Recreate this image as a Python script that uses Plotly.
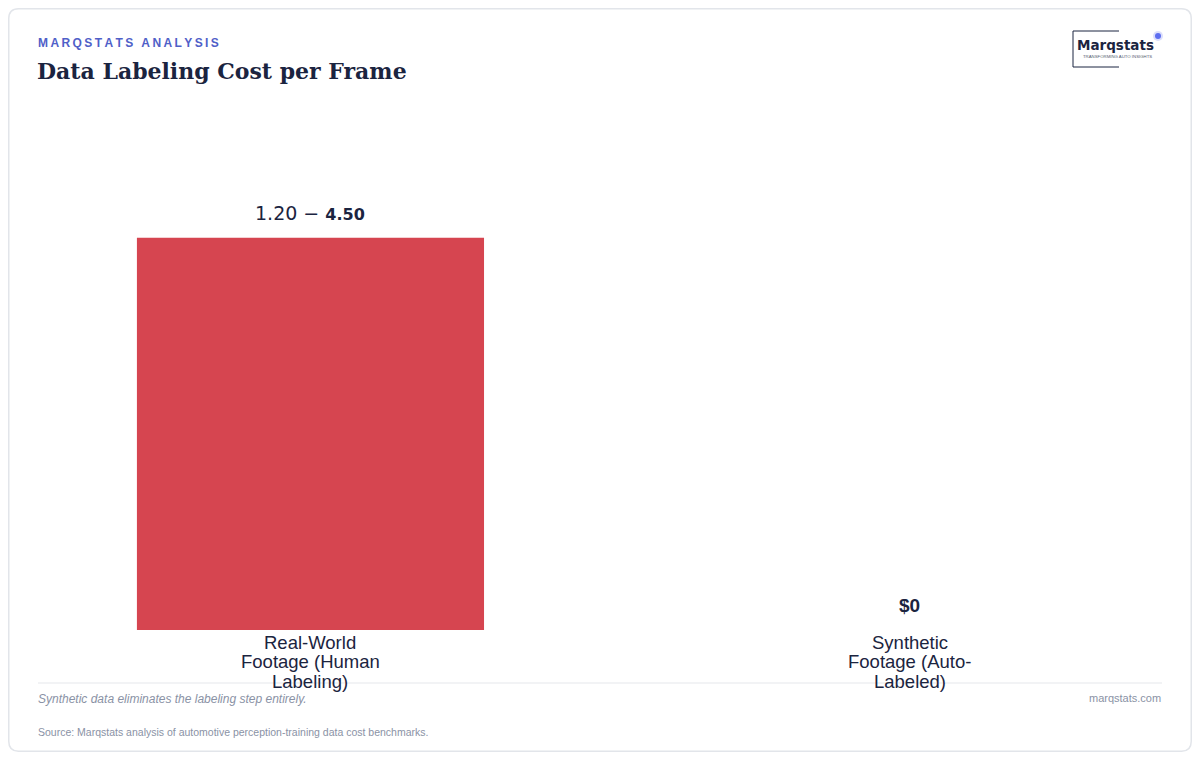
import plotly.graph_objects as go

# ---- data ----
categories = ["Real-World<br>Footage (Human<br>Labeling)", "Synthetic<br>Footage (Auto-<br>Labeled)"]
cost_low = [1.20, None]
cost_high = [4.50, 0.0]
bar_colors = ["#d64550", "#d64550"]

OFF = 8  # page offset of the figure inside the window
W, H = 1184, 744
L, R, T, B = 30, 30, 112, 122
PW, PH = W - L - R, H - T - B


def px(x):  # window pixel -> paper
    return (x - OFF - L) / PW


def py(y):
    return (H - B - (y - OFF)) / PH


DARK = "#1b2440"
GREY = "#8a92a5"

fig = go.Figure()
fig.add_trace(go.Bar(
    x=[0, 1], y=cost_high, marker=dict(color=bar_colors, line=dict(width=0)),
    width=0.579, hoverinfo="skip",
))

ann = []
# value labels
for i, (lo, hi) in enumerate(zip(cost_low, cost_high)):
    if lo is not None:
        txt = f"{lo:.2f} − <span style='font-size:16px'><b>{hi:.2f}</b></span>"
        fnt = dict(family="DejaVu Sans", size=19, color=DARK)
    else:
        txt = f"<b>${hi:.0f}</b>"
        fnt = dict(family="Liberation Sans, Arial", size=19, color=DARK)
    ann.append(dict(x=i, y=hi, xref="x", yref="y", text=txt, showarrow=False,
                    font=fnt, xanchor="center", yanchor="middle", yshift=25))

# category labels (tight line spacing)
for i, c in enumerate(categories):
    for j, line in enumerate(c.split("<br>")):
        ann.append(dict(x=i, y=0, xref="x", yref="y", text=line, showarrow=False,
                        font=dict(family="Liberation Sans, Arial", size=18.5, color=DARK),
                        xanchor="center", yanchor="middle", yshift=-(12 + 19.5 * j)))

# header
ann.append(dict(x=px(36), y=py(43), xref="paper", yref="paper",
                text="\u2009".join("MARQSTATS ANALYSIS"), showarrow=False,
                font=dict(family="Liberation Sans, Arial", size=12, color="#4f60c8", weight="bold"),
                xanchor="left", yanchor="middle"))
ann.append(dict(x=px(35), y=py(71), xref="paper", yref="paper",
                text="<b>Data Labeling Cost per Frame</b>", showarrow=False,
                font=dict(family="DejaVu Serif", size=22, color=DARK),
                xanchor="left", yanchor="middle"))
# footer
ann.append(dict(x=px(36), y=py(699), xref="paper", yref="paper",
                text="<i>Synthetic data eliminates the labeling step entirely.</i>", showarrow=False,
                font=dict(family="Liberation Sans, Arial", size=12, color=GREY),
                xanchor="left", yanchor="middle"))
ann.append(dict(x=px(1163), y=py(698), xref="paper", yref="paper",
                text="marqstats.com", showarrow=False,
                font=dict(family="Liberation Sans, Arial", size=11, color=GREY),
                xanchor="right", yanchor="middle"))
ann.append(dict(x=px(36), y=py(732), xref="paper", yref="paper",
                text="Source: Marqstats analysis of automotive perception-training data cost benchmarks.",
                showarrow=False,
                font=dict(family="Liberation Sans, Arial", size=10.5, color=GREY),
                xanchor="left", yanchor="middle"))
# logo text
ann.append(dict(x=px(1115.5), y=py(45), xref="paper", yref="paper",
                text="<b>Marqstats</b>", showarrow=False,
                font=dict(family="DejaVu Sans", size=13.5, color=DARK),
                xanchor="center", yanchor="middle"))
ann.append(dict(x=px(1117), y=py(56.5), xref="paper", yref="paper",
                text="TRANSFORMING AUTO INSIGHTS", showarrow=False,
                font=dict(family="Liberation Sans, Arial", size=4.3, color="#555c70"),
                xanchor="center", yanchor="middle"))

shapes = []
# card (rounded border at figure edge)
a0, b0, a1, b1, r = 8.75, 8.75, 1191.25, 751.25, 10
sx = lambda v: f"{v:.5f}"
path = (f"M {sx(px(a0 + r))},{sx(py(b0))} L {sx(px(a1 - r))},{sx(py(b0))} "
        f"Q {sx(px(a1))},{sx(py(b0))} {sx(px(a1))},{sx(py(b0 + r))} "
        f"L {sx(px(a1))},{sx(py(b1 - r))} Q {sx(px(a1))},{sx(py(b1))} {sx(px(a1 - r))},{sx(py(b1))} "
        f"L {sx(px(a0 + r))},{sx(py(b1))} Q {sx(px(a0))},{sx(py(b1))} {sx(px(a0))},{sx(py(b1 - r))} "
        f"L {sx(px(a0))},{sx(py(b0 + r))} Q {sx(px(a0))},{sx(py(b0))} {sx(px(a0 + r))},{sx(py(b0))} Z")
shapes.append(dict(type="path", path=path, xref="paper", yref="paper",
                   line=dict(color="#e2e5ea", width=1.5), fillcolor="rgba(0,0,0,0)", layer="below"))
# separator
shapes.append(dict(type="line", xref="paper", yref="paper", x0=px(38), x1=px(1162), y0=py(683), y1=py(683),
                   line=dict(color="#e5e7eb", width=1)))
# logo box (open on right)
for (a, b, c, d) in [(1073, 31, 1119, 31), (1073, 31, 1073, 67), (1073, 67, 1119, 67)]:
    shapes.append(dict(type="line", xref="paper", yref="paper", x0=px(a), y0=py(b), x1=px(c), y1=py(d),
                       line=dict(color=DARK, width=1)))
shapes.append(dict(type="circle", xref="paper", yref="paper", x0=px(1153), x1=px(1163), y0=py(31), y1=py(41),
                   fillcolor="rgba(110,125,240,0.25)", line=dict(width=0)))
shapes.append(dict(type="circle", xref="paper", yref="paper", x0=px(1155), x1=px(1161), y0=py(33), y1=py(39),
                   fillcolor="#5d6ef0", line=dict(width=0)))

fig.update_layout(
    width=W, height=H, margin=dict(l=L, r=R, t=T, b=B),
    paper_bgcolor="white", plot_bgcolor="white", showlegend=False,
    xaxis=dict(range=[-0.4545, 1.4204], showticklabels=False, showgrid=False, zeroline=False,
               showline=False, ticks="", fixedrange=True),
    yaxis=dict(range=[0, 5.85], visible=False, showgrid=False, zeroline=False, fixedrange=True),
    annotations=ann, shapes=shapes,
)

fig.write_html("out.html")
